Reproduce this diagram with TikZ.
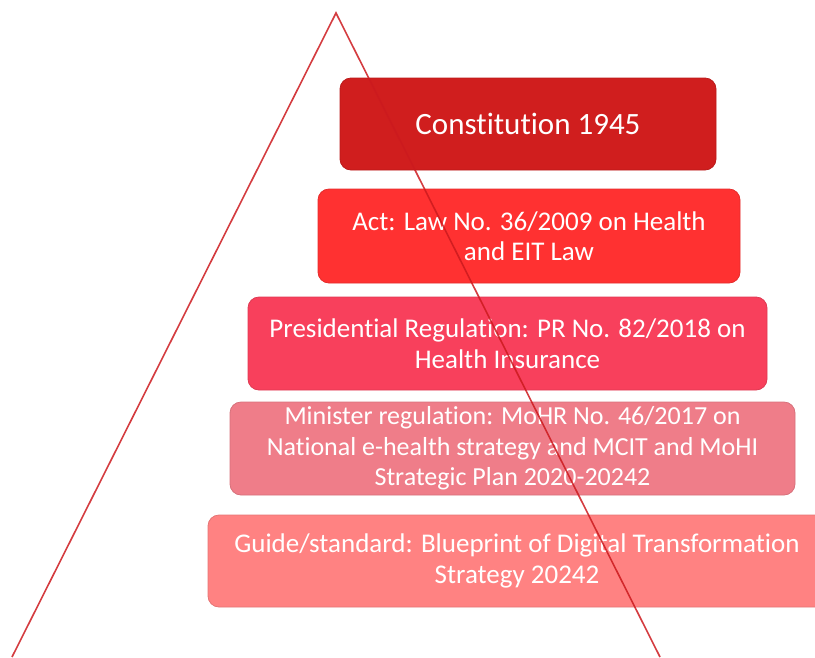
\documentclass[tikz,border=0pt]{standalone}
\usepackage{fontspec}
\setmainfont{Carlito}[Ligatures=NoCommon]

\definecolor{tierone}{HTML}{D01E1E}
\definecolor{tiertwo}{HTML}{FF3131}
\definecolor{tierthree}{HTML}{F8405C}
\definecolor{tierfour}{HTML}{EF7D89}
\definecolor{tierfive}{HTML}{FF8282}
\definecolor{pyrline}{HTML}{CC1A1E}

\tikzset{
  tier/.style={draw=#1!90!black, fill=#1, rounded corners=11pt, line width=0.8pt,
    text=white, align=center, inner sep=0pt,
    font=\fontsize{27}{30.5}\selectfont},
}

\begin{document}
\begin{tikzpicture}[x=1pt,y=-1pt]
      \clip (0,0) rectangle (815,657);

      \node[tier=tierone, minimum width=376pt, minimum height=92pt,
        font=\fontsize{31}{36}\selectfont] (constitution) at (528,124) {Constitution 1945};
      \node[tier=tiertwo, minimum width=422pt, minimum height=94pt] (act) at (529,236)
        {Act: Law No. 36/2009 on Health\\and EIT Law};
      \node[tier=tierthree, minimum width=519pt, minimum height=93pt] (presidential) at (507.5,343.5)
        {Presidential Regulation: PR No. 82/2018 on\\Health Insurance};
      \node[tier=tierfour, minimum width=565pt, minimum height=93pt,
        font=\fontsize{26}{30.5}\selectfont] (minister) at (512.5,448.5)
        {Minister regulation: MoHR No. 46/2017 on\\National e-health strategy and MCIT and MoHI\\Strategic Plan 2020-20242};
      \node[tier=tierfive, minimum width=618pt, minimum height=92pt] (guide) at (517,561)
        {Guide/standard: Blueprint of Digital Transformation\\Strategy 20242};

      % legs of the pyramid, drawn over the tiers
      \coordinate (apex) at (336,13);
      \coordinate (leftfoot) at (12,657);
      \coordinate (rightfoot) at (660,657);
      \draw[pyrline, line width=1.6pt, opacity=0.85] (leftfoot) -- (apex) -- (rightfoot);
    \end{tikzpicture}
\end{document}
